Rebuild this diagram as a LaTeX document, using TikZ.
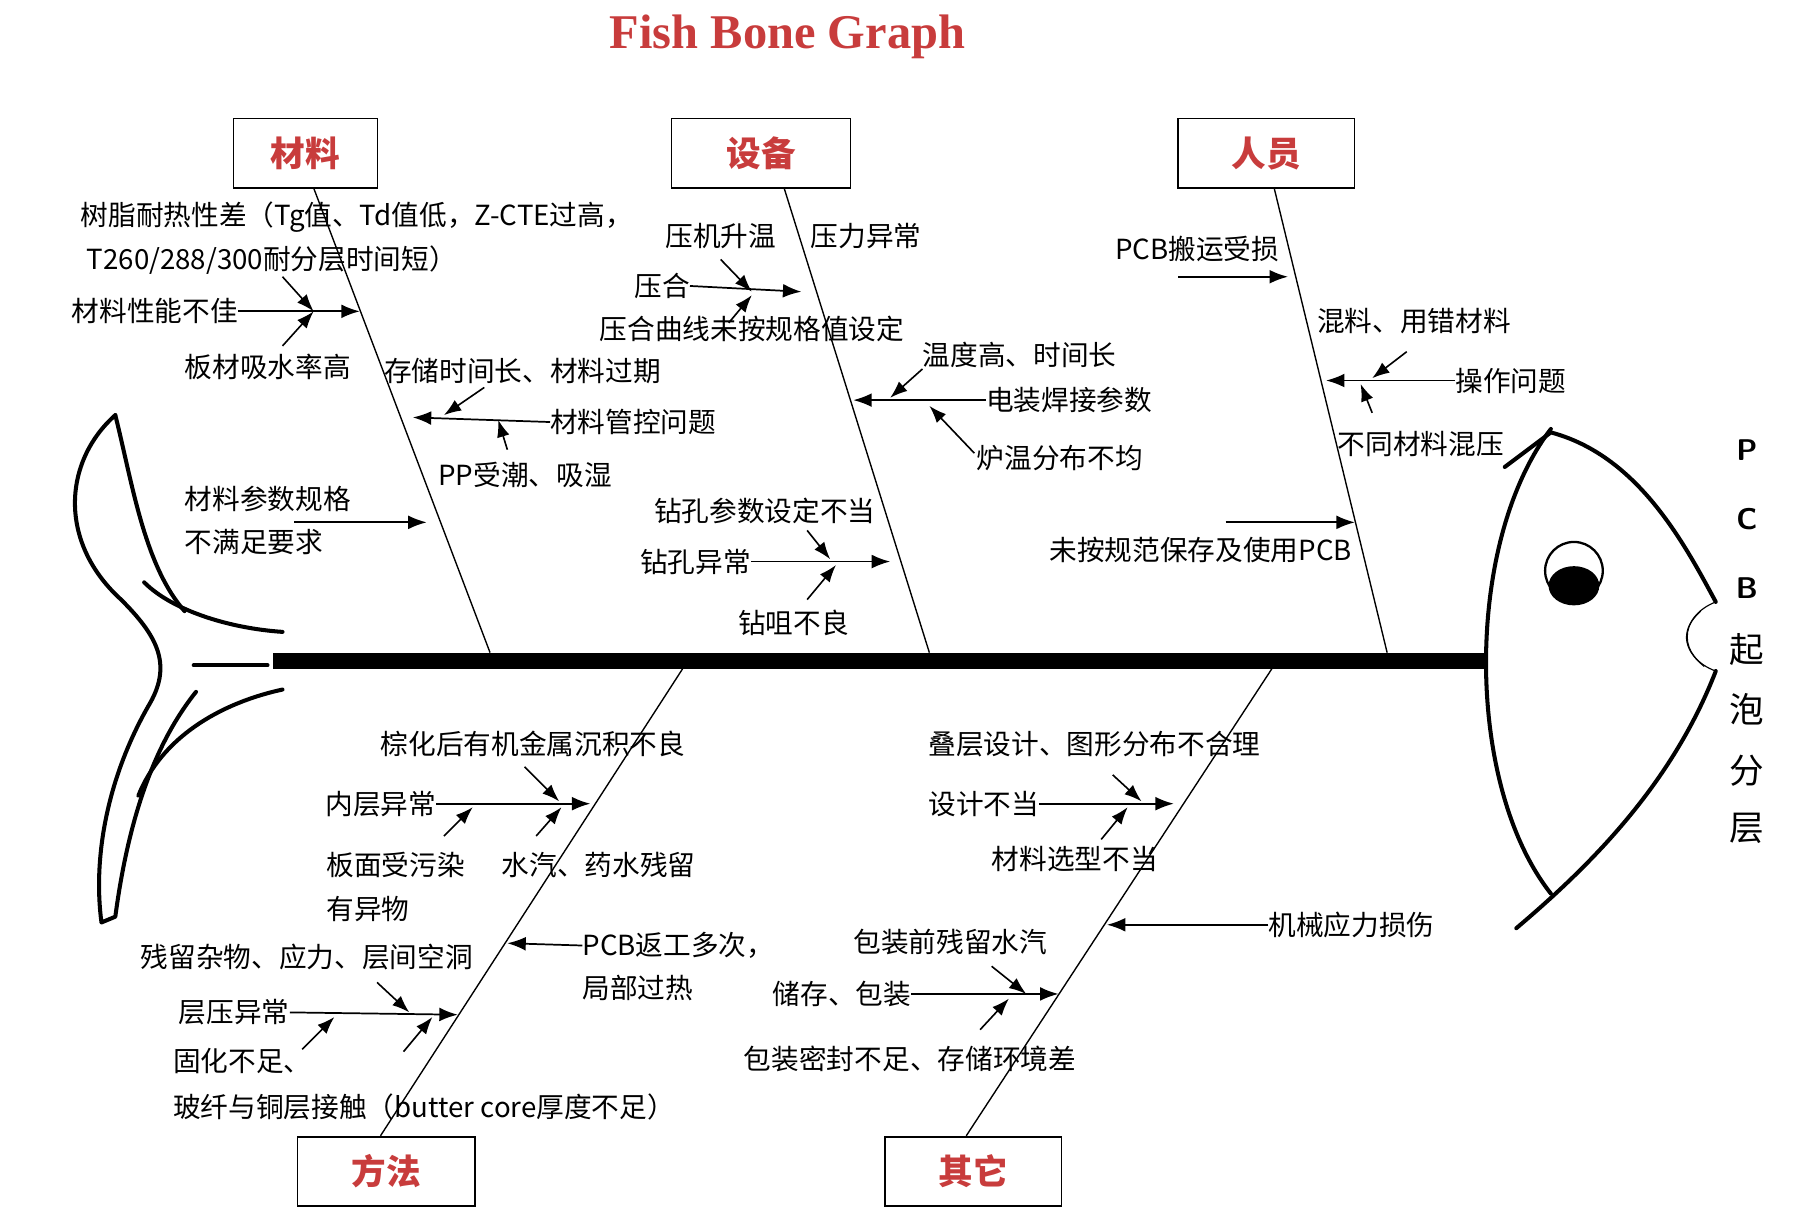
\documentclass[tikz,border=0pt]{standalone}
\usepackage{fontspec}
\setmainfont{Liberation Serif}
\newfontfamily\cjk{Noto Sans CJK SC}
\usetikzlibrary{arrows.meta}
\definecolor{tred}{RGB}{200,60,60}
\begin{document}
\begin{tikzpicture}[x=1pt,y=-1pt,
  lbl/.style={font=\cjk\fontsize{24}{28}\selectfont,anchor=west,inner sep=0pt},
  cat/.style={draw,line width=1.2pt,minimum width=125pt,minimum height=60pt,font=\cjk\bfseries\fontsize{30}{34}\selectfont,text=tred,inner sep=0pt},
  bone/.style={line width=1.2pt},
  arr/.style={line width=1.5pt,-{Latex[length=16pt,width=12pt]}},
  sarr/.style={line width=1.4pt,-{Latex[length=15pt,width=11pt]}},
  fish/.style={line width=3.5pt,line cap=round,line join=round}]
\useasboundingbox (0,0) rectangle (1568,1055);
\node[font=\bfseries\fontsize{42}{46}\selectfont,text=tred] (title) at (683,32) {Fish Bone Graph};
% boxes
\node[cat] (m) at (265,133) {材料};
\node[cat,minimum width=155pt] (e) at (660,133) {设备};
\node[cat,minimum width=153pt] (p) at (1098,133) {人员};
\node[cat,minimum width=154pt] (f) at (335,1016) {方法};
\node[cat,minimum width=153pt] (o) at (844,1016) {其它};
% spine
\coordinate (s0) at (237,573); \coordinate (s1) at (1290,573);
\draw[line width=14pt] (s0) -- (s1);
% bones
\coordinate (mb) at (425,566); \coordinate (eb) at (806,566); \coordinate (pb) at (1203,566);
\coordinate (fb) at (592,580); \coordinate (ob) at (1103,580);
\coordinate (mt) at (272,163); \coordinate (et) at (680,163); \coordinate (pt) at (1105,163);
\coordinate (ft) at (330,985); \coordinate (ot) at (838,985);
\draw[bone] (mt) -- (mb); \draw[bone] (et) -- (eb); \draw[bone] (pt) -- (pb);
\draw[bone] (fb) -- (ft); \draw[bone] (ob) -- (ot);
% head
\draw[fish] (1345,372) .. controls (1270,470) and (1270,680) .. (1345,775);
\draw[fish] (1305,405) -- (1345,375) .. controls (1420,395) and (1460,470) .. (1488,522);
\draw[fish] (1488,582) .. controls (1450,680) and (1380,750) .. (1315,805);
\draw[line width=1pt] (1488,522) .. controls (1455,535) and (1455,570) .. (1488,582);
\draw[line width=1pt] (1475,530) .. controls (1458,545) and (1458,562) .. (1478,578);
\draw[line width=2pt] (1365,495) circle (25);
\fill (1365,508) ellipse (22 and 17);
% tail
\draw[fish] (100,360) .. controls (55,400) and (50,470) .. (105,520) .. controls (135,550) and (150,575) .. (130,610) .. controls (95,670) and (80,740) .. (88,800) -- (100,795) .. controls (110,720) and (130,650) .. (170,600);
\draw[fish] (100,360) .. controls (115,420) and (125,490) .. (160,530);
\draw[fish] (125,505) .. controls (150,530) and (200,545) .. (245,548);
\draw[fish] (168,577) -- (232,577);
\draw[fish] (120,690) .. controls (140,640) and (190,610) .. (245,598);
% PCB vertical
\foreach \t/\yy in {P/390,C/450,B/510}{\node[font=\sffamily\bfseries\fontsize{26}{30}\selectfont] at (1515,\yy) {\t};}
\foreach \t/\yy in {起/563,泡/615,分/668,层/718}{\node[font=\cjk\fontsize{30}{34}\selectfont] at (1515,\yy) {\t};}
% ---- materials
\node[lbl] (m1) at (70,188) {树脂耐热性差（Tg值、Td值低，Z-CTE过高，};
\node[lbl] (m1b) at (75,226) {T260/288/300耐分层时间短）};
\node[lbl] (m2) at (62,270) {材料性能不佳};
\node[lbl] (m3) at (160,318) {板材吸水率高};
\node[lbl] (m4) at (333,322) {存储时间长、材料过期};
\node[lbl] (m5) at (477,366) {材料管控问题};
\node[lbl] (m6) at (380,412) {PP受潮、吸湿};
\node[lbl] (m7) at (160,433) {材料参数规格};
\node[lbl] (m7b) at (160,470) {不满足要求};
\coordinate (m2j) at (272,270);
\draw[arr] (m2.east) -- (312,270);
\draw[sarr] (245,240) -- (m2j); \draw[sarr] (245,300) -- (m2j);
\draw[arr] (m5.west) -- (358,362);
\draw[sarr] (420,336) -- (385,360); \draw[sarr] (440,390) -- (432,364);
\draw[arr] (255,453) -- (370,453);
% ---- equipment
\node[lbl] (e1) at (577,205) {压机升温};
\node[lbl] (e2) at (703,205) {压力异常};
\node[lbl] (e3) at (550,248) {压合};
\node[lbl] (e4) at (520,285) {压合曲线未按规格值设定};
\draw[arr] (e3.east) -- (695,253);
\draw[sarr] (625,225) -- (652,253); \draw[sarr] (632,280) -- (652,256);
\node[lbl] (e5) at (800,308) {温度高、时间长};
\node[lbl] (e6) at (855,347) {电装焊接参数};
\node[lbl] (e7) at (847,397) {炉温分布不均};
\draw[arr] (e6.west) -- (740,347);
\draw[sarr] (800,320) -- (772,345); \draw[sarr] (845,393) -- (806,352);
\node[lbl] (e8) at (567,443) {钻孔参数设定不当};
\node[lbl] (e9) at (555,487) {钻孔异常};
\node[lbl] (e10) at (640,540) {钻咀不良};
\draw[arr] (e9.east) -- (772,487);
\draw[sarr] (700,460) -- (720,485); \draw[sarr] (700,520) -- (725,490);
% ---- people
\node[lbl] (p1) at (967,216) {PCB搬运受损};
\draw[arr] (1022,240) -- (1117,240);
\node[lbl] (p2) at (1142,278) {混料、用错材料};
\node[lbl] (p3) at (1262,330) {操作问题};
\node[lbl] (p4) at (1160,385) {不同材料混压};
\draw[arr] (p3.west) -- (1150,330);
\draw[sarr] (1220,305) -- (1190,328); \draw[sarr] (1190,358) -- (1180,333);
\node[lbl] (p5) at (910,477) {未按规范保存及使用PCB};
\draw[arr] (1063,453) -- (1175,453);
% ---- methods
\node[lbl] (f1) at (330,645) {棕化后有机金属沉积不良};
\node[lbl] (f2) at (282,697) {内层异常};
\node[lbl] (f3) at (283,750) {板面受污染};
\node[lbl] (f3b) at (283,788) {有异物};
\node[lbl] (f4) at (435,750) {水汽、药水残留};
\draw[arr] (f2.east) -- (512,697);
\draw[sarr] (455,665) -- (485,695); \draw[sarr] (385,725) -- (410,700); \draw[sarr] (465,725) -- (487,700);
\node[lbl] (f5) at (122,830) {残留杂物、应力、层间空洞};
\node[lbl] (f6) at (505,820) {PCB返工多次，};
\node[lbl] (f6b) at (505,857) {局部过热};
\draw[arr] (f6.west) -- (440,818);
\node[lbl] (f7) at (155,878) {层压异常};
\node[lbl] (f8) at (150,920) {固化不足、};
\node[lbl] (f9) at (150,960) {玻纤与铜层接触（butter core厚度不足）};
\draw[arr] (f7.east) -- (397,880);
\draw[sarr] (327,852) -- (355,878); \draw[sarr] (262,910) -- (290,882); \draw[sarr] (350,912) -- (375,882);
% ---- others
\node[lbl] (o1) at (805,645) {叠层设计、图形分布不合理};
\node[lbl] (o2) at (805,697) {设计不当};
\node[lbl] (o3) at (860,745) {材料选型不当};
\draw[arr] (o2.east) -- (1018,697);
\draw[sarr] (965,672) -- (990,695); \draw[sarr] (955,728) -- (978,700);
\node[lbl] (o4) at (1100,802) {机械应力损伤};
\draw[arr] (o4.west) -- (960,802);
\node[lbl] (o5) at (740,817) {包装前残留水汽};
\node[lbl] (o6) at (670,862) {储存、包装};
\node[lbl] (o7) at (645,918) {包装密封不足、存储环境差};
\draw[arr] (o6.east) -- (918,862);
\draw[sarr] (860,838) -- (890,862); \draw[sarr] (850,893) -- (875,866);
\end{tikzpicture}
\end{document}
